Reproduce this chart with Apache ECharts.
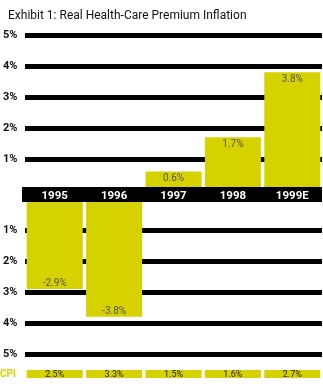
<!DOCTYPE html>
<html><head><meta charset="utf-8">
<script src="https://cdn.jsdelivr.net/npm/echarts@6/dist/echarts.min.js"></script>
<style>html,body{margin:0;padding:0;background:#fff}#c{width:323px;height:389px}</style>
</head><body><div id="c"></div>
<script>
const title = 'Exhibit 1: Real Health-Care Premium Inflation';
const categories = ['1995', '1996', '1997', '1998', '1999E'];
const premiumInflation = [-2.9, -3.8, 0.6, 1.7, 3.8];
const cpi = [2.5, 3.3, 1.5, 1.6, 2.7];
const upperTicks = [1, 2, 3, 4, 5];
const lowerTicks = [-1, -2, -3, -4, -5];

const YEL = '#d6d200';
const FONT = 'Roboto';
const chart = echarts.init(document.getElementById('c'), null, {renderer: 'canvas'});

const posData = premiumInflation.map(v => v > 0 ? v : '-');
const negData = premiumInflation.map(v => v < 0 ? v : '-');

chart.setOption({
  animation: false,
  textStyle: {fontFamily: FONT},
  title: {text: title, left: 3, top: 5, textStyle: {fontSize: 12, fontWeight: 'normal', color: '#111', fontFamily: FONT}},
  grid: [
    {left: 22, right: 1, top: 35, height: 155},
    {left: 22, right: 1, top: 199, height: 155}
  ],
  xAxis: [
    {type: 'category', gridIndex: 0, data: categories, z: 10,
     axisLine: {show: false}, axisTick: {show: false},
     axisLabel: {color: '#fff', fontWeight: 'bold', fontSize: 11.5, margin: 0, fontFamily: FONT}},
    {type: 'category', gridIndex: 1, data: categories, position: 'bottom',
     axisLine: {show: false, onZero: false}, axisTick: {show: false},
     axisLabel: {margin: 16, formatter: (v, i) => cpi[i].toFixed(1) + '%',
       backgroundColor: YEL, width: 56, height: 8, lineHeight: 9, align: 'center',
       fontSize: 9, color: '#222', fontFamily: FONT}}
  ],
  yAxis: [
    {type: 'value', gridIndex: 0, min: 0, max: 5, interval: 1,
     axisLine: {show: false}, axisTick: {show: false},
     splitLine: {lineStyle: {color: '#000', width: 5}},
     axisLabel: {align: 'left', margin: 22, fontSize: 11, fontWeight: 'bold', color: '#111',
       formatter: v => upperTicks.includes(v) ? v + '%' : ''}},
    {type: 'value', gridIndex: 1, min: -5, max: 0, interval: 1,
     axisLine: {show: false}, axisTick: {show: false},
     splitLine: {lineStyle: {color: '#000', width: 5}},
     axisLabel: {align: 'left', margin: 22, fontSize: 11, fontWeight: 'bold', color: '#111',
       formatter: v => lowerTicks.includes(v) ? Math.abs(v) + '%' : ''}}
  ],
  graphic: {elements: [
    {type: 'rect', z: 5, shape: {x: 22, y: 187, width: 300, height: 15}, style: {fill: '#000'}},
    {type: 'text', z: 5, left: 0, top: 369, style: {text: 'CPI', fill: YEL, fontSize: 10, fontWeight: 'bold', fontFamily: FONT}}
  ]},
  series: [
    {type: 'bar', xAxisIndex: 0, yAxisIndex: 0, data: posData, barWidth: 56,
     itemStyle: {color: YEL},
     label: {show: true, position: 'insideTop', distance: 2, color: '#555', fontSize: 10,
       formatter: p => p.value.toFixed(1) + '%'}},
    {type: 'bar', xAxisIndex: 1, yAxisIndex: 1, data: negData, barWidth: 56,
     itemStyle: {color: YEL},
     label: {show: true, position: 'insideBottom', distance: 0, color: '#555', fontSize: 10,
       formatter: p => p.value.toFixed(1) + '%'}}
  ]
});
</script></body></html>
